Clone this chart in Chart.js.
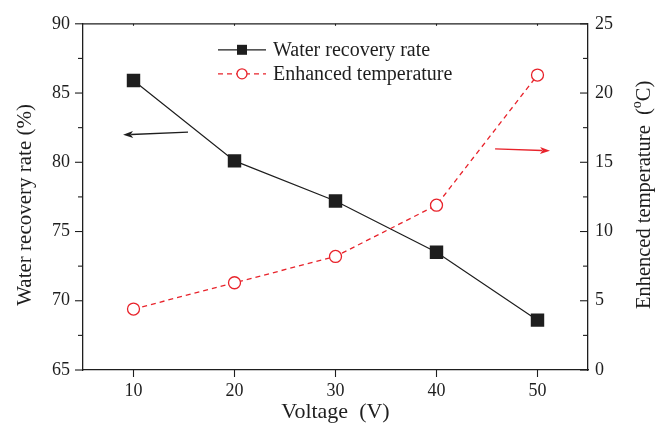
<!DOCTYPE html>
<html>
<head>
<meta charset="utf-8">
<script src="https://cdn.jsdelivr.net/npm/chart.js@4/dist/chart.umd.min.js"></script>
<style>
html,body{margin:0;padding:0;background:#fff;}
#wrap{width:665px;height:425px;position:relative;}
</style>
</head>
<body>
<div id="wrap"><canvas id="c" width="665" height="425"></canvas></div>
<script>
// ---- data ----
const voltage = [10, 20, 30, 40, 50];
const waterRecovery = [85.9, 80.1, 77.2, 73.5, 68.6];
const enhancedTemp = [4.4, 6.3, 8.2, 11.9, 21.3];
const xTickValues = [10, 20, 30, 40, 50];
const seriesNames = ['Water recovery rate', 'Enhanced temperature'];
const xTitle = 'Voltage  (V)';
const yLeftTitle = 'Water recovery rate (%)';
const yRightTitle = 'Enhenced temperature  (';
const yRightUnitSup = 'o';
const yRightUnit = 'C)';
// arrows in data coords: [x1, y1, x2(tip), y2(tip)]
const arrowBlack = [15.4, 82.18, 8.97, 81.98];
const arrowRed = [45.8, 15.97, 51.24, 15.83];

const FONT = "'Liberation Serif', 'Times New Roman', serif";
const RED = '#e8232b';
const BLACK = '#1e1e1e';

function drawArrow(ctx, x1, y1, x2, y2, color) {
  const ang = Math.atan2(y2 - y1, x2 - x1);
  const hl = 10, hw = 3.5;
  ctx.save();
  ctx.strokeStyle = color; ctx.fillStyle = color; ctx.lineWidth = 1.3;
  ctx.beginPath();
  ctx.moveTo(x1, y1);
  ctx.lineTo(x2 - Math.cos(ang) * hl * 0.8, y2 - Math.sin(ang) * hl * 0.8);
  ctx.stroke();
  ctx.beginPath();
  ctx.moveTo(x2, y2);
  ctx.lineTo(x2 - Math.cos(ang) * hl - Math.sin(ang) * hw, y2 - Math.sin(ang) * hl + Math.cos(ang) * hw);
  ctx.lineTo(x2 - Math.cos(ang) * hl * 0.75, y2 - Math.sin(ang) * hl * 0.75);
  ctx.lineTo(x2 - Math.cos(ang) * hl + Math.sin(ang) * hw, y2 - Math.sin(ang) * hl - Math.cos(ang) * hw);
  ctx.closePath();
  ctx.fill();
  ctx.restore();
}

const decorPlugin = {
  id: 'decor',
  afterDraw(chart) {
    const ctx = chart.ctx;
    const a = chart.chartArea;
    const sx = chart.scales.x, sy = chart.scales.y, sy2 = chart.scales.y2;
    ctx.save();
    ctx.strokeStyle = BLACK;
    ctx.lineWidth = 1.3;
    // top border
    ctx.beginPath(); ctx.moveTo(a.left, a.top); ctx.lineTo(a.right, a.top); ctx.stroke();
    // left ticks (outward), major + minor
    ctx.lineWidth = 1.1;
    const lt = sy.ticks.map(t => t.value);
    lt.forEach((v, i) => {
      const p = sy.getPixelForValue(v);
      ctx.beginPath(); ctx.moveTo(a.left - 8, p); ctx.lineTo(a.left, p); ctx.stroke();
      if (i < lt.length - 1) {
        const m = sy.getPixelForValue((v + lt[i + 1]) / 2);
        ctx.beginPath(); ctx.moveTo(a.left - 5, m); ctx.lineTo(a.left, m); ctx.stroke();
      }
    });
    // right ticks (inward)
    const rt = sy2.ticks.map(t => t.value);
    rt.forEach((v, i) => {
      const p = sy2.getPixelForValue(v);
      ctx.beginPath(); ctx.moveTo(a.right - 8, p); ctx.lineTo(a.right, p); ctx.stroke();
      if (i < rt.length - 1) {
        const m = sy2.getPixelForValue((v + rt[i + 1]) / 2);
        ctx.beginPath(); ctx.moveTo(a.right - 5, m); ctx.lineTo(a.right, m); ctx.stroke();
      }
    });
    // bottom ticks (outward) and tiny top ticks
    sx.ticks.forEach(t => {
      const p = sx.getPixelForValue(t.value);
      ctx.beginPath(); ctx.moveTo(p, a.bottom); ctx.lineTo(p, a.bottom + 7); ctx.stroke();
      ctx.beginPath(); ctx.moveTo(p, a.top); ctx.lineTo(p, a.top + 2); ctx.stroke();
    });
    ctx.restore();

    // left axis title
    ctx.save();
    ctx.fillStyle = BLACK;
    ctx.font = '21px ' + FONT;
    ctx.textAlign = 'center'; ctx.textBaseline = 'middle';
    ctx.translate(25, (a.top + a.bottom) / 2 + 8);
    ctx.rotate(-Math.PI / 2);
    ctx.fillText(yLeftTitle, 0, 0);
    ctx.restore();

    // right axis title with superscript
    ctx.save();
    ctx.fillStyle = BLACK;
    ctx.translate(645, (a.top + a.bottom) / 2 - 2);
    ctx.rotate(-Math.PI / 2);
    ctx.textBaseline = 'middle';
    ctx.font = '20.5px ' + FONT;
    const w1 = ctx.measureText(yRightTitle).width;
    const w3 = ctx.measureText(yRightUnit).width;
    ctx.font = '14px ' + FONT;
    const w2 = ctx.measureText(yRightUnitSup).width;
    let x0 = -(w1 + w2 + w3) / 2;
    ctx.textAlign = 'left';
    ctx.font = '20.5px ' + FONT;
    ctx.fillText(yRightTitle, x0, 0);
    ctx.font = '14px ' + FONT;
    ctx.fillText(yRightUnitSup, x0 + w1, -8);
    ctx.font = '20.5px ' + FONT;
    ctx.fillText(yRightUnit, x0 + w1 + w2, 0);
    ctx.restore();

    // legend
    const rows = [
      {y: a.top + 26, ds: chart.data.datasets[0]},
      {y: a.top + 50, ds: chart.data.datasets[1]}
    ];
    rows.forEach(r => {
      const ds = r.ds;
      ctx.save();
      ctx.strokeStyle = ds.borderColor;
      ctx.lineWidth = ds.borderWidth;
      ctx.setLineDash(ds.borderDash || []);
      ctx.beginPath(); ctx.moveTo(218, r.y); ctx.lineTo(266, r.y); ctx.stroke();
      ctx.setLineDash([]);
      if (ds.pointStyle === 'rect') {
        ctx.fillStyle = ds.pointBackgroundColor;
        ctx.fillRect(242 - 5, r.y - 5, 10, 10);
      } else {
        ctx.fillStyle = '#fff';
        ctx.strokeStyle = ds.pointBorderColor;
        ctx.lineWidth = 1.3;
        ctx.beginPath(); ctx.arc(242, r.y, 5, 0, Math.PI * 2); ctx.fill(); ctx.stroke();
      }
      ctx.fillStyle = BLACK;
      ctx.font = '20px ' + FONT;
      ctx.textAlign = 'left'; ctx.textBaseline = 'middle';
      ctx.fillText(ds.label, 273, r.y + 1);
      ctx.restore();
    });

    // arrows
    drawArrow(ctx, sx.getPixelForValue(arrowBlack[0]), sy.getPixelForValue(arrowBlack[1]),
      sx.getPixelForValue(arrowBlack[2]), sy.getPixelForValue(arrowBlack[3]), BLACK);
    drawArrow(ctx, sx.getPixelForValue(arrowRed[0]), sy2.getPixelForValue(arrowRed[1]),
      sx.getPixelForValue(arrowRed[2]), sy2.getPixelForValue(arrowRed[3]), RED);
  }
};

const tickFont = {family: FONT, size: 18};

new Chart(document.getElementById('c'), {
  type: 'line',
  data: {
    datasets: [
      {
        label: seriesNames[0],
        data: voltage.map((v, i) => ({x: v, y: waterRecovery[i]})),
        yAxisID: 'y',
        borderColor: BLACK,
        borderWidth: 1.2,
        pointStyle: 'rect',
        pointRadius: 9.5,
        pointBackgroundColor: BLACK,
        pointBorderColor: BLACK,
        pointBorderWidth: 0,
        tension: 0,
        order: 1
      },
      {
        label: seriesNames[1],
        data: voltage.map((v, i) => ({x: v, y: enhancedTemp[i]})),
        yAxisID: 'y2',
        borderColor: RED,
        borderWidth: 1.3,
        borderDash: [5, 4],
        pointStyle: 'circle',
        pointRadius: 6,
        pointBackgroundColor: '#fff',
        pointBorderColor: RED,
        pointBorderWidth: 1.3,
        tension: 0,
        order: 0
      }
    ]
  },
  options: {
    responsive: false,
    animation: false,
    layout: {padding: {top: 19, left: 0, right: 0, bottom: 0}},
    plugins: {legend: {display: false}, tooltip: {enabled: false}},
    scales: {
      x: {
        type: 'linear', position: 'bottom', min: 5, max: 55,
        afterBuildTicks(s) { s.ticks = xTickValues.map(v => ({value: v})); },
        afterFit(s) { s.height = 55; },
        grid: {display: false, drawTicks: false},
        border: {display: true, color: BLACK, width: 1.3},
        ticks: {font: tickFont, color: BLACK, padding: 10, maxRotation: 0},
        title: {display: true, text: xTitle, color: BLACK, font: {family: FONT, size: 22}, padding: 0}
      },
      y: {
        position: 'left', min: 65, max: 90,
        afterFit(s) { s.width = 83; },
        grid: {display: false, drawTicks: false},
        border: {display: true, color: BLACK, width: 1.3},
        ticks: {stepSize: 5, font: tickFont, color: BLACK, padding: 13}
      },
      y2: {
        position: 'right', min: 0, max: 25,
        afterFit(s) { s.width = 77; },
        grid: {display: false, drawTicks: false},
        border: {display: true, color: BLACK, width: 1.3},
        ticks: {stepSize: 5, font: tickFont, color: BLACK, padding: 7}
      }
    }
  },
  plugins: [decorPlugin]
});
</script>
</body>
</html>
